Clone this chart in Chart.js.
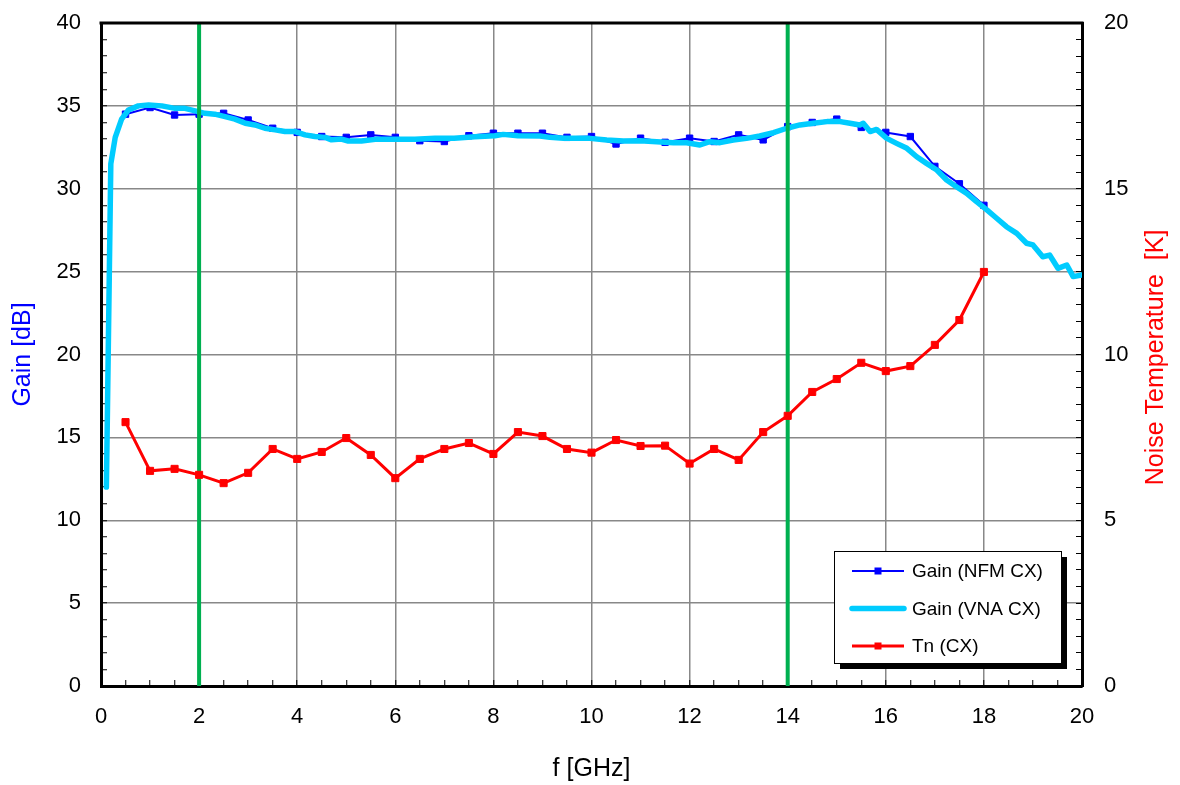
<!DOCTYPE html>
<html>
<head>
<meta charset="utf-8">
<title>Gain / Noise Temperature</title>
<script src="https://cdn.jsdelivr.net/npm/chart.js@4.4.1/dist/chart.umd.min.js"></script>
<style>
    html, body { margin: 0; padding: 0; background: #fff; }
    canvas { display: block; }
</style>
</head>
<body>
<canvas id="chart" width="1180" height="785"></canvas>
<script>
// NFM measurement points (GHz)
const freqNfm = [0.5, 1, 1.5, 2, 2.5, 3, 3.5, 4, 4.5, 5, 5.5, 6, 6.5, 7, 7.5, 8, 8.5, 9,
    9.5, 10, 10.5, 11, 11.5, 12, 12.5, 13, 13.5, 14, 14.5, 15, 15.5, 16, 16.5, 17, 17.5, 18];
const gainNfm = [34.5, 34.9, 34.45, 34.5, 34.55, 34.15, 33.65, 33.4, 33.15, 33.1, 33.25, 33.1,
    32.9, 32.85, 33.2, 33.35, 33.35, 33.35, 33.1, 33.15, 32.7, 33.05, 32.8, 33.05, 32.85, 33.25,
    32.95, 33.75, 34.0, 34.2, 33.7, 33.4, 33.15, 31.35, 30.3, 29.0];
const tnCx = [7.96, 6.49, 6.55, 6.37, 6.12, 6.43, 7.15, 6.85, 7.06, 7.48, 6.97, 6.27, 6.85, 7.15,
    7.33, 7.0, 7.66, 7.54, 7.15, 7.04, 7.42, 7.24, 7.25, 6.71, 7.15, 6.82, 7.66, 8.15, 8.87, 9.26,
    9.75, 9.5, 9.65, 10.29, 11.04, 12.49];

// VNA sweep (GHz, dB)
const freqVna = [0.11, 0.2, 0.29, 0.42, 0.56, 0.76, 0.97, 1.24, 1.51, 1.71, 1.92, 2.12, 2.32, 2.53,
    2.73, 2.94, 3.14, 3.34, 3.55, 3.75, 3.96, 4.16, 4.36, 4.57, 4.7, 4.9, 5.04, 5.31, 5.59, 6.0,
    6.4, 6.81, 7.2, 7.62, 8.03, 8.2, 8.5, 8.95, 9.15, 9.43, 9.7, 9.97, 10.31, 10.65, 10.99, 11.33,
    11.67, 11.94, 12.21, 12.41, 12.62, 12.89, 13.16, 13.43, 13.71, 13.98, 14.25, 14.52, 14.8,
    15.07, 15.27, 15.47, 15.54, 15.68, 15.81, 16.02, 16.22, 16.43, 16.63, 16.83, 17.04, 17.24,
    17.44, 17.65, 17.85, 18.06, 18.26, 18.46, 18.67, 18.87, 19.0, 19.2, 19.34, 19.51, 19.69,
    19.82, 20.0];
const gainVna = [12.0, 31.5, 33.1, 34.2, 34.75, 35.0, 35.05, 35.0, 34.85, 34.85, 34.7, 34.55, 34.5,
    34.35, 34.2, 33.95, 33.85, 33.65, 33.55, 33.45, 33.45, 33.25, 33.15, 33.1, 32.95, 33.0, 32.88,
    32.88, 32.98, 32.98, 32.98, 33.04, 33.04, 33.14, 33.2, 33.28, 33.2, 33.18, 33.1, 33.04, 33.04,
    33.04, 32.94, 32.88, 32.9, 32.84, 32.78, 32.78, 32.64, 32.84, 32.78, 32.94, 33.04, 33.18,
    33.38, 33.65, 33.85, 33.95, 34.05, 34.05, 33.95, 33.85, 33.95, 33.45, 33.58, 33.04, 32.74,
    32.44, 31.93, 31.53, 31.13, 30.53, 30.12, 29.72, 29.22, 28.72, 28.22, 27.71, 27.31, 26.71,
    26.61, 25.9, 26.0, 25.2, 25.4, 24.7, 24.8];

// band edges marked in green
const bandEdges = [2, 14];

const xTicks = [0, 2, 4, 6, 8, 10, 12, 14, 16, 18, 20];
const gainTicks = [0, 5, 10, 15, 20, 25, 30, 35, 40];
const tnTicks = [0, 5, 10, 15, 20];

const FONT = "'Liberation Sans', Arial, sans-serif";
Chart.defaults.font.family = FONT;
Chart.defaults.color = '#000';

const pts = (xs, ys) => xs.map((x, i) => ({ x: x, y: ys[i] }));

const edgeData = [];
bandEdges.forEach(f => {
    edgeData.push({ x: f, y: 0 }, { x: f, y: 40 }, { x: f, y: null });
});

const isMajor = (v, list) => list.some(t => Math.abs(t - v) < 1e-6);

// legend box in bottom-right of plot area, with drop shadow
const boxLegend = {
    id: 'boxLegend',
    afterDraw(chart) {
        const ctx = chart.ctx;
        const area = chart.chartArea;
        const w = 227, h = 112;
        const x = area.right - 21 - w;
        const y = area.bottom - 23 - h;
        ctx.save();
        ctx.fillStyle = '#000';
        ctx.fillRect(x + 6, y + 6, w, h);
        ctx.fillStyle = '#fff';
        ctx.fillRect(x, y, w, h);
        ctx.strokeStyle = '#000';
        ctx.lineWidth = 1;
        ctx.strokeRect(x + 0.5, y + 0.5, w, h);

        const items = chart.data.datasets.filter(d => d.inLegend);
        items.forEach((d, i) => {
            const cy = y + 20 + i * 37.5;
            ctx.strokeStyle = d.borderColor;
            ctx.lineWidth = d.borderWidth;
            ctx.lineCap = d.borderWidth > 4 ? 'round' : 'butt';
            ctx.beginPath();
            ctx.moveTo(x + 18, cy);
            ctx.lineTo(x + 70, cy);
            ctx.stroke();
            if (d.pointRadius > 0) {
                ctx.fillStyle = d.borderColor;
                ctx.fillRect(x + 44 - 3.5, cy - 3.5, 7, 7);
            }
            ctx.fillStyle = '#000';
            ctx.font = '19px ' + FONT;
            ctx.textBaseline = 'middle';
            ctx.textAlign = 'left';
            ctx.fillText(d.label, x + 78, cy + 1);
        });
        ctx.restore();
    }
};

// frame on top edge, right axis title (reads bottom to top)
const frameAndTitle = {
    id: 'frameAndTitle',
    afterDraw(chart) {
        const ctx = chart.ctx;
        const area = chart.chartArea;
        ctx.save();
        ctx.strokeStyle = '#000';
        ctx.lineWidth = 3;
        ctx.beginPath();
        ctx.moveTo(area.left - 1.5, area.top);
        ctx.lineTo(area.right + 1.5, area.top);
        ctx.stroke();

        ctx.translate(1156, (area.top + area.bottom) / 2 + 3);
        ctx.rotate(-Math.PI / 2);
        ctx.fillStyle = '#ff0000';
        ctx.font = '25px ' + FONT;
        ctx.textAlign = 'center';
        ctx.textBaseline = 'middle';
        ctx.fillText('Noise Temperature  [K]', 0, 0);
        ctx.restore();
    }
};

const noPadV = s => { s.paddingTop = 0; s.paddingBottom = 0; };

new Chart(document.getElementById('chart'), {
    type: 'line',
    data: {
        datasets: [
            {
                label: 'Gain (NFM CX)',
                inLegend: true,
                data: pts(freqNfm, gainNfm),
                yAxisID: 'y',
                borderColor: '#0000ff',
                backgroundColor: '#0000ff',
                borderWidth: 2,
                pointStyle: 'rect',
                pointRadius: 4.5,
                pointBorderWidth: 1,
                tension: 0,
                order: 3
            },
            {
                label: 'Gain (VNA CX)',
                inLegend: true,
                data: pts(freqVna, gainVna),
                yAxisID: 'y',
                borderColor: '#00ccff',
                borderWidth: 5.5,
                pointRadius: 0,
                tension: 0,
                borderJoinStyle: 'round',
                borderCapStyle: 'round',
                order: 2
            },
            {
                label: 'Tn (CX)',
                inLegend: true,
                data: pts(freqNfm, tnCx),
                yAxisID: 'y2',
                borderColor: '#ff0000',
                backgroundColor: '#ff0000',
                borderWidth: 3,
                pointStyle: 'rect',
                pointRadius: 5,
                pointBorderWidth: 1,
                tension: 0,
                order: 0
            },
            {
                label: 'band',
                data: edgeData,
                yAxisID: 'y',
                borderColor: '#00b050',
                borderWidth: 4,
                pointRadius: 0,
                spanGaps: false,
                order: 1
            }
        ]
    },
    options: {
        responsive: false,
        animation: false,
        devicePixelRatio: 1,
        layout: { padding: { top: 23, left: 0, right: 0, bottom: 0 } },
        plugins: {
            legend: { display: false },
            tooltip: { enabled: false }
        },
        scales: {
            x: {
                type: 'linear',
                min: 0,
                max: 20,
                afterBuildTicks: s => {
                    s.ticks = [];
                    for (let i = 0; i <= 40; i++) s.ticks.push({ value: i / 2 });
                },
                afterFit: s => { s.height = 99; s.paddingLeft = 0; s.paddingRight = 0; },
                ticks: {
                    autoSkip: false,
                    maxRotation: 0,
                    padding: 24,
                    font: { size: 22 },
                    callback: v => isMajor(v, xTicks) ? v : ''
                },
                grid: {
                    color: c => (c.tick && isMajor(c.tick.value, xTicks)) ? '#888888' : 'rgba(0,0,0,0)',
                    lineWidth: 1.5,
                    tickColor: '#000',
                    tickLength: -6,
                    tickWidth: 1
                },
                border: { color: '#000', width: 3 },
                title: {
                    display: true,
                    text: 'f [GHz]',
                    font: { size: 25 },
                    padding: { top: 0, bottom: 1 }
                }
            },
            y: {
                position: 'left',
                min: 0,
                max: 40,
                afterBuildTicks: s => {
                    s.ticks = [];
                    for (let i = 0; i <= 40; i++) s.ticks.push({ value: i });
                },
                afterFit: s => { s.width = 101; noPadV(s); },
                ticks: {
                    autoSkip: false,
                    padding: 26,
                    font: { size: 22 },
                    callback: v => isMajor(v, gainTicks) ? v : ''
                },
                grid: {
                    color: c => (c.tick && isMajor(c.tick.value, gainTicks)) ? '#888888' : 'rgba(0,0,0,0)',
                    lineWidth: 1.5,
                    tickColor: '#000',
                    tickLength: -6,
                    tickWidth: 1
                },
                border: { color: '#000', width: 3 },
                title: {
                    display: true,
                    text: 'Gain [dB]',
                    color: '#0000ff',
                    font: { size: 25 },
                    padding: { top: 8, bottom: 0 }
                }
            },
            y2: {
                position: 'right',
                min: 0,
                max: 20,
                afterBuildTicks: s => {
                    s.ticks = [];
                    for (let i = 0; i <= 40; i++) s.ticks.push({ value: i / 2 });
                },
                afterFit: s => { s.width = 98; noPadV(s); },
                ticks: {
                    autoSkip: false,
                    padding: 28,
                    font: { size: 22 },
                    callback: v => isMajor(v, tnTicks) ? v : ''
                },
                grid: {
                    drawOnChartArea: false,
                    tickColor: '#000',
                    tickLength: -6,
                    tickWidth: 1
                },
                border: { color: '#000', width: 3 }
            }
        }
    },
    plugins: [boxLegend, frameAndTitle]
});
</script>
</body>
</html>
